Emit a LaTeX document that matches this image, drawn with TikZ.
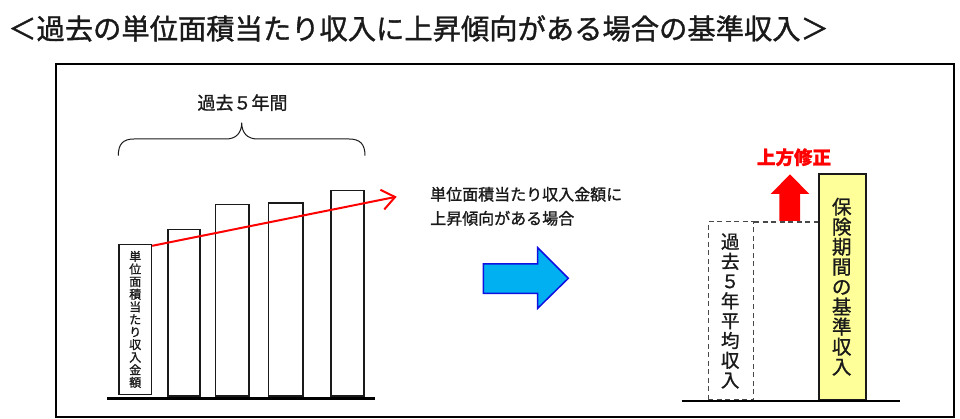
\documentclass[tikz,border=0pt]{standalone}
\usepackage{fontspec}
\setmainfont{Noto Sans CJK JP}[RawFeature={embolden=1.2}]
\usetikzlibrary{arrows.meta}
\definecolor{inkc}{HTML}{1A1A1A}
\definecolor{cyanfill}{HTML}{00B0F0}
\definecolor{bluedge}{HTML}{1010E0}
\definecolor{yellowfill}{HTML}{FFFF99}
\tikzset{
  bar/.style={draw=inkc, line width=1.5pt, fill=white, anchor=south west, inner sep=0pt},
  vtext/.style={align=center, inner sep=0pt, text=inkc},
  txt/.style={inner sep=0pt, text=inkc},
}
\begin{document}
\begin{tikzpicture}[x=1pt,y=-1pt]
\useasboundingbox (0,0) rectangle (960,419);
% title
\node[txt, anchor=west, font=\fontsize{28.3}{30}\selectfont] (title) at (8,28.5) {＜過去の単位面積当たり収入に上昇傾向がある場合の基準収入＞};
% frame
\node[draw=black, line width=2.2pt, anchor=north west, minimum width=898pt, minimum height=353pt, inner sep=0pt] (frame) at (55,63) {};
% bars
\node[bar, minimum width=32.4pt, minimum height=149.7pt] (b1) at (118.3,395) {};
\node[vtext, font=\fontsize{12}{12.6}\selectfont] (b1t) at (b1.center) {単\\位\\面\\積\\当\\た\\り\\収\\入\\金\\額};
\node[bar, minimum width=32pt, minimum height=166.4pt] (b2) at (167.3,396.7) {};
\node[bar, minimum width=33.3pt, minimum height=191.4pt] (b3) at (214.7,396.7) {};
\node[bar, minimum width=34.6pt, minimum height=192.7pt] (b4) at (267.7,396.7) {};
\node[bar, minimum width=33pt, minimum height=205.4pt] (b5) at (330.3,396.7) {};
\coordinate (bl1) at (107.3,398.3);
\coordinate (br1) at (375,398.3);
\draw[line width=3pt, black] (bl1) -- (br1);
% brace
\draw[line width=1pt, inkc] (118.3,155.7) .. controls (118.3,144) and (123,139) .. (134,139) -- (226,139)
  .. controls (236,139) and (241.7,133) .. (241.7,122.7)
  .. controls (241.7,133) and (247.4,139) .. (257.4,139) -- (349,139)
  .. controls (360,139) and (365,144) .. (365,155.7);
\node[txt, font=\fontsize{18}{20}\selectfont] (five) at (242.5,102.7) {過去５年間};
% red trend arrow
\coordinate (redend) at (396.7,196.7);
\draw[red, line width=2pt, -{Straight Barb[length=13pt,width=20pt,line width=2pt]}] ([yshift=-2pt]b1.north east) -- (redend);
% condition text
\node[txt, anchor=west, font=\fontsize{16}{18}\selectfont] (cond1) at (430,194.3) {単位面積当たり収入金額に};
\node[txt, anchor=west, font=\fontsize{16}{18}\selectfont] (cond2) at (430,218.3) {上昇傾向がある場合};
% blue arrow
\draw[fill=cyanfill, draw=bluedge, line width=1.5pt, line join=miter]
  (483.3,264) -- (537.7,264) -- (537.7,247.7) -- (568.3,278.3) -- (537.7,308.3) -- (537.7,293.3) -- (483.3,293.3) -- cycle;
% right part
\node[draw=inkc!80, dashed, dash pattern=on 5pt off 3.5pt, line width=1.4pt, anchor=north west, minimum width=45pt, minimum height=178.6pt, inner sep=0pt] (avg) at (707.7,220.7) {};
\node[vtext, font=\fontsize{18.5}{19.8}\selectfont] (avgt) at (730.2,311) {過\\去\\５\\年\\平\\均\\収\\入};
\node[draw=inkc, fill=yellowfill, line width=1.5pt, anchor=north west, minimum width=46.7pt, minimum height=226pt, inner sep=0pt] (std) at (818.3,173.3) {};
\node[vtext, font=\fontsize{19.5}{20}\selectfont] (stdt) at (841.7,286.7) {保\\険\\期\\間\\の\\基\\準\\収\\入};
\draw[dashed, dash pattern=on 5pt off 3.5pt, draw=inkc!80, line width=1.4pt] ([yshift=-1.5pt]avg.north east) -- ([yshift=-1.5pt]avg.north east -| std.west);
\coordinate (bl2) at (681.7,400.7);
\coordinate (br2) at (900,400.7);
\draw[line width=2pt, black] (bl2) -- (br2);
% red up arrow
\fill[red] (779.3,221) -- (779.3,194) -- (770.7,194) -- (790,174.3) -- (809.3,194) -- (800,194) -- (800,221) -- cycle;
\node[txt, text=red, font=\fontsize{18.5}{20}\selectfont\bfseries] (up) at (794,157.3) {上方修正};
\end{tikzpicture}
\end{document}
